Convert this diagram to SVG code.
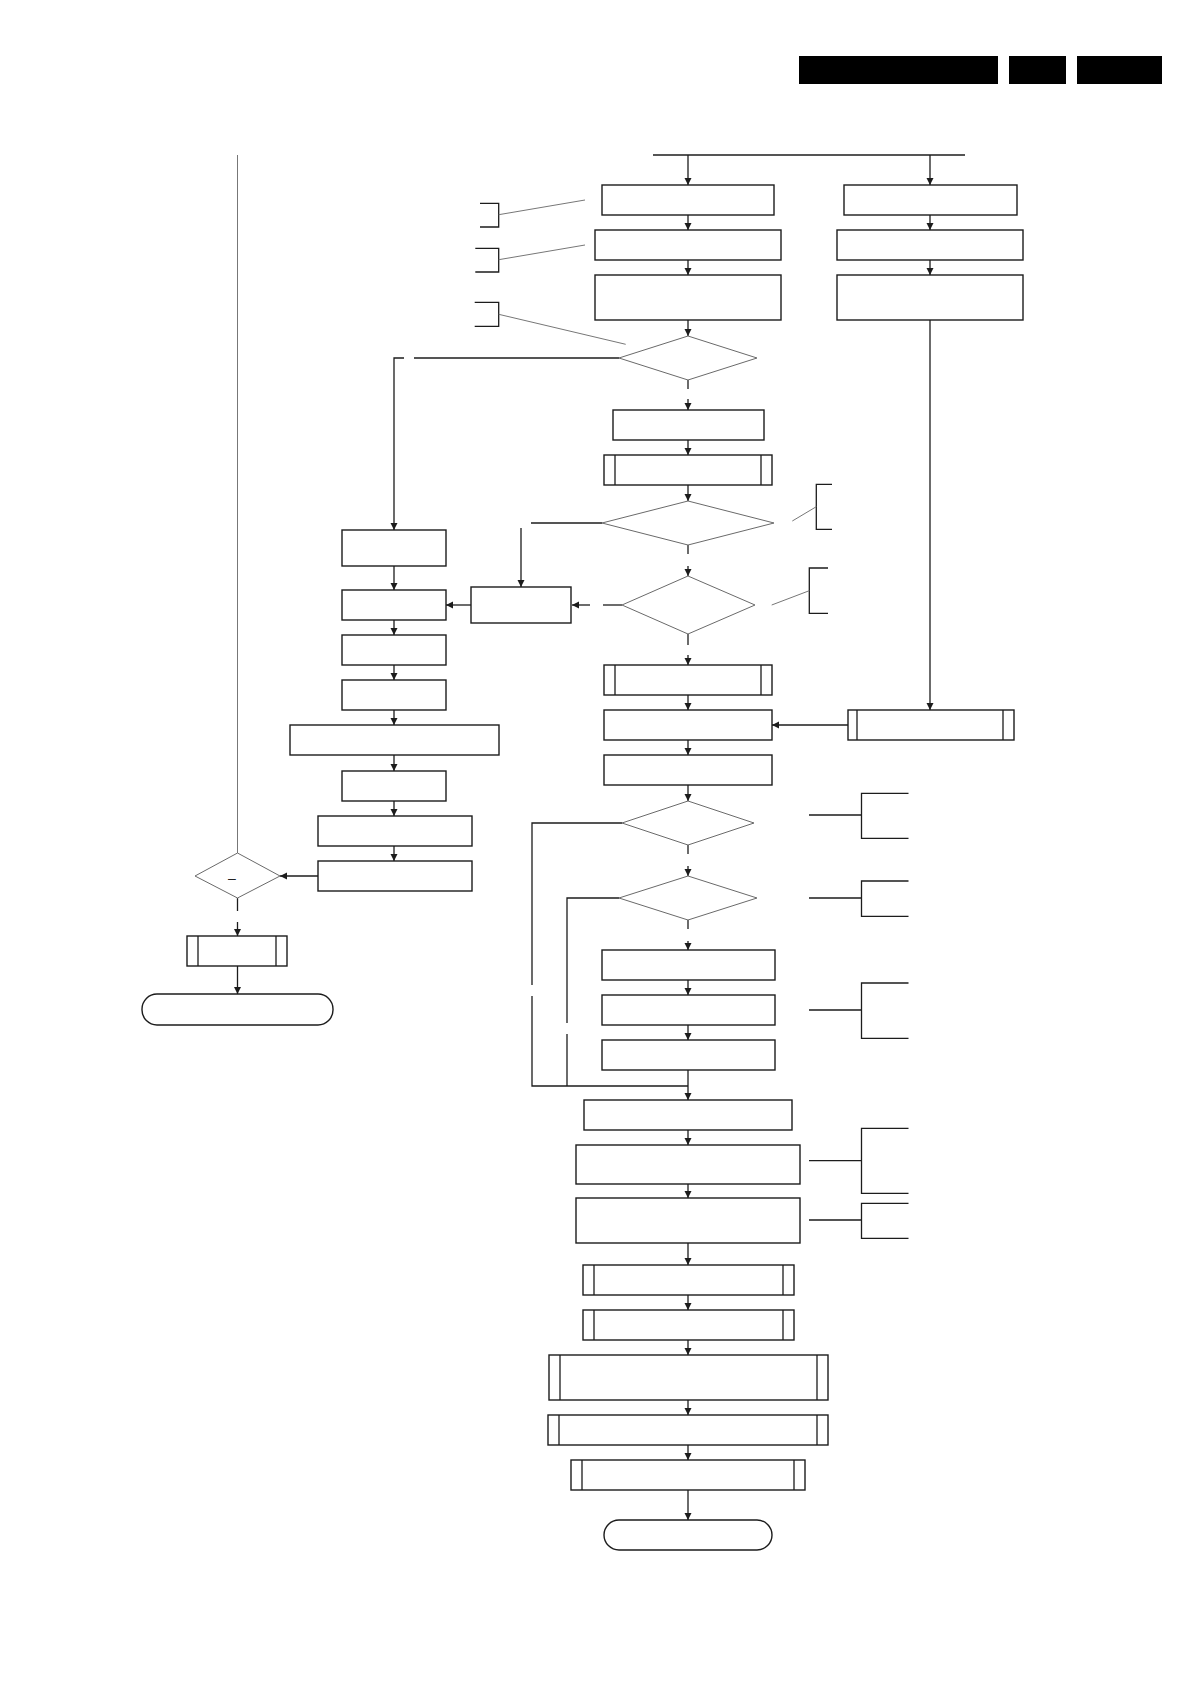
<svg xmlns="http://www.w3.org/2000/svg" width="1191" height="1684" viewBox="0 0 1191 1684">
<style>
.box{fill:#fff;stroke:#1c1c1c;stroke-width:1.4}
.dia{fill:#fff;stroke:#6a6a6a;stroke-width:1}
.ln{fill:none;stroke:#1c1c1c;stroke-width:1.3}
.thin{fill:none;stroke:#777;stroke-width:1}
.hdr{fill:#000}
.lbl{font-family:"Liberation Sans",Arial,sans-serif;font-size:14px;fill:#222}
</style>
<defs>
<marker id="ah" markerUnits="userSpaceOnUse" markerWidth="8" markerHeight="8" refX="7" refY="3.5" orient="auto">
<path d="M0,0 L7,3.5 L0,7 z" fill="#1c1c1c"/>
</marker>
</defs>
<rect width="1191" height="1684" fill="#fff"/>
<g id="header">
<rect class="hdr" x="799" y="56" width="199" height="28"/>
<rect class="hdr" x="1009" y="56" width="57" height="28"/>
<rect class="hdr" x="1077" y="56" width="85" height="28"/>
</g>
<g id="connectors">
<line class="ln" x1="653" y1="155" x2="965" y2="155"/>
<line class="ln" x1="688" y1="155" x2="688" y2="185" marker-end="url(#ah)"/>
<line class="ln" x1="930" y1="155" x2="930" y2="185" marker-end="url(#ah)"/>
<line class="ln" x1="688" y1="215" x2="688" y2="230" marker-end="url(#ah)"/>
<line class="ln" x1="688" y1="260" x2="688" y2="275" marker-end="url(#ah)"/>
<line class="ln" x1="688" y1="320" x2="688" y2="336" marker-end="url(#ah)"/>
<line class="ln" x1="930" y1="215" x2="930" y2="230" marker-end="url(#ah)"/>
<line class="ln" x1="930" y1="260" x2="930" y2="275" marker-end="url(#ah)"/>
<line class="ln" x1="930" y1="320" x2="930" y2="710" marker-end="url(#ah)"/>
<line class="ln" x1="688" y1="380" x2="688" y2="389"/>
<line class="ln" x1="688" y1="399" x2="688" y2="410" marker-end="url(#ah)"/>
<line class="ln" x1="688" y1="440" x2="688" y2="455" marker-end="url(#ah)"/>
<line class="ln" x1="688" y1="485" x2="688" y2="501" marker-end="url(#ah)"/>
<line class="ln" x1="688" y1="545" x2="688" y2="554"/>
<line class="ln" x1="688" y1="566" x2="688" y2="576" marker-end="url(#ah)"/>
<line class="ln" x1="688" y1="634" x2="688" y2="645"/>
<line class="ln" x1="688" y1="655" x2="688" y2="665" marker-end="url(#ah)"/>
<line class="ln" x1="688" y1="695" x2="688" y2="710" marker-end="url(#ah)"/>
<line class="ln" x1="688" y1="740" x2="688" y2="755" marker-end="url(#ah)"/>
<line class="ln" x1="688" y1="785" x2="688" y2="801" marker-end="url(#ah)"/>
<line class="ln" x1="688" y1="845" x2="688" y2="854"/>
<line class="ln" x1="688" y1="866" x2="688" y2="876" marker-end="url(#ah)"/>
<line class="ln" x1="688" y1="920" x2="688" y2="929"/>
<line class="ln" x1="688" y1="941" x2="688" y2="950" marker-end="url(#ah)"/>
<line class="ln" x1="688" y1="980" x2="688" y2="995" marker-end="url(#ah)"/>
<line class="ln" x1="688" y1="1025" x2="688" y2="1040" marker-end="url(#ah)"/>
<line class="ln" x1="688" y1="1070" x2="688" y2="1100" marker-end="url(#ah)"/>
<polyline class="ln" points="622,823 532,823 532,985"/>
<polyline class="ln" points="532,996 532,1086 688,1086"/>
<polyline class="ln" points="619,898 567,898 567,1023"/>
<line class="ln" x1="567" y1="1034" x2="567" y2="1086"/>
<line class="ln" x1="688" y1="1130" x2="688" y2="1145" marker-end="url(#ah)"/>
<line class="ln" x1="688" y1="1184" x2="688" y2="1198" marker-end="url(#ah)"/>
<line class="ln" x1="688" y1="1243" x2="688" y2="1265" marker-end="url(#ah)"/>
<line class="ln" x1="688" y1="1295" x2="688" y2="1310" marker-end="url(#ah)"/>
<line class="ln" x1="688" y1="1340" x2="688" y2="1355" marker-end="url(#ah)"/>
<line class="ln" x1="688" y1="1400" x2="688" y2="1415" marker-end="url(#ah)"/>
<line class="ln" x1="688" y1="1445" x2="688" y2="1460" marker-end="url(#ah)"/>
<line class="ln" x1="688" y1="1490" x2="688" y2="1520" marker-end="url(#ah)"/>
<line class="ln" x1="848" y1="725" x2="772" y2="725" marker-end="url(#ah)"/>
<line class="ln" x1="619" y1="358" x2="414" y2="358"/>
<polyline class="ln" points="404,358 394,358 394,530" marker-end="url(#ah)"/>
<line class="ln" x1="394" y1="566" x2="394" y2="590" marker-end="url(#ah)"/>
<line class="ln" x1="394" y1="620" x2="394" y2="635" marker-end="url(#ah)"/>
<line class="ln" x1="394" y1="665" x2="394" y2="680" marker-end="url(#ah)"/>
<line class="ln" x1="394" y1="710" x2="394" y2="725" marker-end="url(#ah)"/>
<line class="ln" x1="394" y1="755" x2="394" y2="771" marker-end="url(#ah)"/>
<line class="ln" x1="394" y1="801" x2="394" y2="816" marker-end="url(#ah)"/>
<line class="ln" x1="394" y1="846" x2="394" y2="861" marker-end="url(#ah)"/>
<line class="ln" x1="318" y1="876" x2="280" y2="876" marker-end="url(#ah)"/>
<line class="ln" x1="471" y1="605" x2="446" y2="605" marker-end="url(#ah)"/>
<line class="ln" x1="622" y1="605" x2="603" y2="605"/>
<line class="ln" x1="590" y1="605" x2="572" y2="605" marker-end="url(#ah)"/>
<line class="ln" x1="602" y1="523" x2="531" y2="523"/>
<line class="ln" x1="521" y1="528" x2="521" y2="587" marker-end="url(#ah)"/>
<line class="thin" x1="237.5" y1="155" x2="237.5" y2="853"/>
<line class="ln" x1="237.5" y1="898" x2="237.5" y2="911"/>
<line class="ln" x1="237.5" y1="922" x2="237.5" y2="936" marker-end="url(#ah)"/>
<line class="ln" x1="237.5" y1="966" x2="237.5" y2="994" marker-end="url(#ah)"/>
</g>
<g id="annotations">
<path class="ln" d="M480,203.3 H498.7 V227 H480"/>
<line class="thin" x1="498.7" y1="214.7" x2="585" y2="200"/>
<path class="ln" d="M475.3,248.3 H498.7 V272 H475.3"/>
<line class="thin" x1="498.7" y1="259.7" x2="585" y2="245"/>
<path class="ln" d="M474.7,302.3 H498.7 V326.3 H474.7"/>
<line class="thin" x1="498.7" y1="314.3" x2="625.7" y2="344.3"/>
<path class="ln" d="M832,484.3 H816.3 V529.3 H832"/>
<line class="thin" x1="792.3" y1="521" x2="816.3" y2="506.7"/>
<path class="ln" d="M828,568 H809.3 V613.3 H828"/>
<line class="thin" x1="771.7" y1="605" x2="809.3" y2="590.7"/>
<path class="ln" d="M809,815 H861.5 M908.5,793.3 H861.5 V838.3 H908.5"/>
<path class="ln" d="M809,898 H861.5 M908.5,881 H861.5 V916.3 H908.5"/>
<path class="ln" d="M809,1010 H861.5 M908.5,983 H861.5 V1038.3 H908.5"/>
<path class="ln" d="M809,1160.7 H861.5 M908.5,1128.3 H861.5 V1193.3 H908.5"/>
<path class="ln" d="M809,1220 H861.5 M908.5,1203.3 H861.5 V1238.3 H908.5"/>
</g>
<g id="n1"><rect class="box" x="602" y="185" width="172" height="30"/></g>
<g id="n2"><rect class="box" x="595" y="230" width="186" height="30"/></g>
<g id="n3"><rect class="box" x="595" y="275" width="186" height="45"/></g>
<g id="r1"><rect class="box" x="844" y="185" width="173" height="30"/></g>
<g id="r2"><rect class="box" x="837" y="230" width="186" height="30"/></g>
<g id="r3"><rect class="box" x="837" y="275" width="186" height="45"/></g>
<g id="d1"><polygon class="dia" points="688,336 757,358 688,380 619,358"/></g>
<g id="n4"><rect class="box" x="613" y="410" width="151" height="30"/></g>
<g id="s1"><rect class="box" x="604" y="455" width="168" height="30"/><path class="ln" d="M615,455 V485 M761,455 V485"/></g>
<g id="d2"><polygon class="dia" points="688,501 774,523 688,545 602,523"/></g>
<g id="d3"><polygon class="dia" points="688,576 755,605 688,634 622,605"/></g>
<g id="a"><rect class="box" x="342" y="530" width="104" height="36"/></g>
<g id="b"><rect class="box" x="342" y="590" width="104" height="30"/></g>
<g id="c"><rect class="box" x="471" y="587" width="100" height="36"/></g>
<g id="d"><rect class="box" x="342" y="635" width="104" height="30"/></g>
<g id="e"><rect class="box" x="342" y="680" width="104" height="30"/></g>
<g id="f"><rect class="box" x="290" y="725" width="209" height="30"/></g>
<g id="g"><rect class="box" x="342" y="771" width="104" height="30"/></g>
<g id="h"><rect class="box" x="318" y="816" width="154" height="30"/></g>
<g id="i"><rect class="box" x="318" y="861" width="154" height="30"/></g>
<g id="dL"><polygon class="dia" points="237.5,853 280,876 237.5,898 195,876"/><text class="lbl" x="232" y="883" text-anchor="middle">–</text></g>
<g id="j"><rect class="box" x="187" y="936" width="100" height="30"/><path class="ln" d="M198,936 V966 M276,936 V966"/></g>
<g id="t1"><rect class="box" x="142" y="994" width="191" height="31" rx="15" ry="15" stroke-width="1.8"/></g>
<g id="k"><rect class="box" x="604" y="665" width="168" height="30"/><path class="ln" d="M615,665 V695 M761,665 V695"/></g>
<g id="l"><rect class="box" x="604" y="710" width="168" height="30"/></g>
<g id="m"><rect class="box" x="604" y="755" width="168" height="30"/></g>
<g id="nR"><rect class="box" x="848" y="710" width="166" height="30"/><path class="ln" d="M857,710 V740 M1003,710 V740"/></g>
<g id="d4"><polygon class="dia" points="688,801 754,823 688,845 622,823"/></g>
<g id="d5"><polygon class="dia" points="688,876 757,898 688,920 619,898"/></g>
<g id="o"><rect class="box" x="602" y="950" width="173" height="30"/></g>
<g id="p"><rect class="box" x="602" y="995" width="173" height="30"/></g>
<g id="q"><rect class="box" x="602" y="1040" width="173" height="30"/></g>
<g id="r"><rect class="box" x="584" y="1100" width="208" height="30"/></g>
<g id="s"><rect class="box" x="576" y="1145" width="224" height="39"/></g>
<g id="tb"><rect class="box" x="576" y="1198" width="224" height="45"/></g>
<g id="u"><rect class="box" x="583" y="1265" width="211" height="30"/><path class="ln" d="M594,1265 V1295 M783,1265 V1295"/></g>
<g id="v"><rect class="box" x="583" y="1310" width="211" height="30"/><path class="ln" d="M594,1310 V1340 M783,1310 V1340"/></g>
<g id="w"><rect class="box" x="549" y="1355" width="279" height="45"/><path class="ln" d="M560,1355 V1400 M817,1355 V1400"/></g>
<g id="x"><rect class="box" x="548" y="1415" width="280" height="30"/><path class="ln" d="M559,1415 V1445 M817,1415 V1445"/></g>
<g id="y"><rect class="box" x="571" y="1460" width="234" height="30"/><path class="ln" d="M582,1460 V1490 M794,1460 V1490"/></g>
<g id="t2"><rect class="box" x="604" y="1520" width="168" height="30" rx="15" ry="15" stroke-width="1.8"/></g>
</svg>
